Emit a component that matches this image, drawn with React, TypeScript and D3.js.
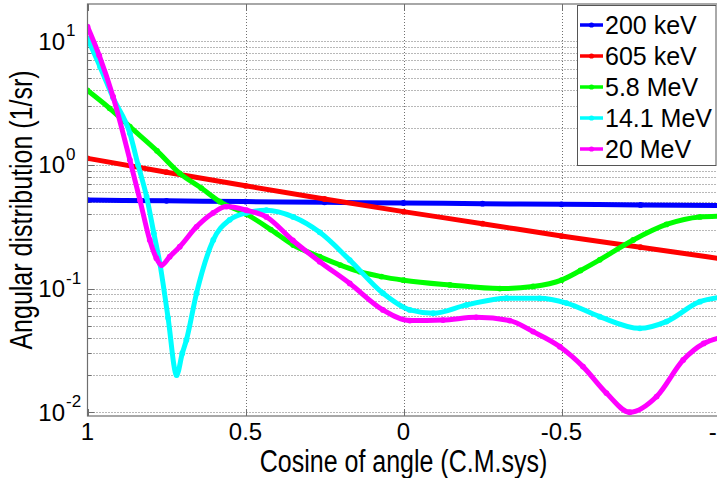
import React from "react";
import * as d3 from "d3";

// chart values (cosine of angle, angular distribution 1/sr)
const seriesNames = ["200 keV", "605 keV", "5.8 MeV", "14.1 MeV", "20 MeV"];
const seriesColors = ["#0000ff", "#ff0000", "#00ff00", "#00ffff", "#ff00ff"];

const cos200 = [1, 0.75, 0.5, 0.25, 0, -0.25, -0.5, -0.75, -1];
const val200 = [0.52, 0.512, 0.505, 0.498, 0.492, 0.486, 0.48, 0.475, 0.47];

const cos605 = [1, 0.75, 0.5, 0.25, 0, -0.25, -0.5, -0.75, -1];
const val605 = [1.13, 0.873, 0.678, 0.53, 0.419, 0.335, 0.266, 0.216, 0.175];

const cos58 = [1, 0.93, 0.866, 0.78, 0.708, 0.64, 0.581, 0.497, 0.42, 0.349, 0.265, 0.2, 0.138, 0.07, 0, -0.147, -0.305, -0.41, -0.5, -0.56, -0.621, -0.727, -0.832, -0.938, -1];
const val58 = [4.0, 2.87, 2.04, 1.3, 0.855, 0.65, 0.504, 0.4, 0.3, 0.225, 0.181, 0.155, 0.137, 0.125, 0.117, 0.107, 0.1, 0.104, 0.117, 0.14, 0.171, 0.247, 0.33, 0.38, 0.385];

const cos141 = [1, 0.96, 0.919, 0.866, 0.84, 0.813, 0.79, 0.771, 0.745, 0.718, 0.7, 0.687, 0.655, 0.602, 0.55, 0.497, 0.434, 0.349, 0.265, 0.17, 0.065, -0.02, -0.094, -0.2, -0.326, -0.431, -0.516, -0.621, -0.748, -0.832, -0.938, -1];
const val141 = [10.5, 6.2, 3.49, 1.8, 1.0, 0.553, 0.28, 0.16, 0.058, 0.02, 0.03, 0.0384, 0.0917, 0.247, 0.36, 0.41, 0.43, 0.38, 0.285, 0.17, 0.0917, 0.0672, 0.0632, 0.0738, 0.0837, 0.0835, 0.0764, 0.0593, 0.0477, 0.0541, 0.0784, 0.085];

const cos20 = [1, 0.963, 0.919, 0.866, 0.834, 0.803, 0.782, 0.766, 0.74, 0.708, 0.655, 0.602, 0.56, 0.497, 0.434, 0.35, 0.265, 0.17, 0.065, -0.02, -0.125, -0.23, -0.336, -0.41, -0.495, -0.568, -0.642, -0.716, -0.801, -0.885, -0.95, -1];
const val20 = [13.1, 7.69, 3.56, 1.1, 0.52, 0.247, 0.176, 0.155, 0.181, 0.218, 0.316, 0.41, 0.46, 0.43, 0.38, 0.245, 0.165, 0.11, 0.0672, 0.0551, 0.0557, 0.0586, 0.0551, 0.0449, 0.0339, 0.0234, 0.0143, 0.01, 0.0134, 0.0265, 0.036, 0.04];

const allCos = [cos200, cos605, cos58, cos141, cos20];
const allVals = [val200, val605, val58, val141, val20];

const xTicks = [1, 0.5, 0, -0.5, -1];
const xTickLabels = ["1", "0.5", "0", "-0.5", "-1"];
const yExponents = [-2, -1, 0, 1];

const W = 717, H = 478;
const plot = { left: 87.5, right: 719.5, top: 4, bottom: 416 };
const font = "'Liberation Sans', Arial, Helvetica, sans-serif";

export default function App() {
  const x = d3.scaleLinear().domain([1, -1]).range([plot.left, plot.right]);
  const y = d3.scaleLog().domain([0.00933, 20]).range([plot.bottom, plot.top]);

  const line = d3.line<[number, number]>()
    .x(d => x(d[0]))
    .y(d => y(d[1]))
    .curve(d3.curveMonotoneX);

  // minor grid values 1..9 x 10^k inside the domain
  const minorVals: number[] = [];
  for (let k = -3; k <= 1; k++) {
    for (let m = 1; m <= 9; m++) {
      const v = m * Math.pow(10, k);
      if (v > 0.00933 && v < 20) minorVals.push(v);
    }
  }

  const legendRows = [25, 56, 87, 118, 149];

  return (
    <svg width={W} height={H} style={{ position: "absolute", left: 0, top: 0, background: "#fff" }}
      fontFamily={font}>
      <defs>
        <clipPath id="plotClip">
          <rect x={plot.left} y={plot.top} width={plot.right - plot.left} height={plot.bottom - plot.top} />
        </clipPath>
      </defs>
      <rect x={0} y={0} width={W} height={H} fill="#fff" />

      {/* grid */}
      <g stroke="#707070" strokeWidth={1} strokeDasharray="1,2">
        {minorVals.map((v, i) => (
          <line key={"gy" + i} x1={plot.left} x2={plot.right} y1={Math.round(y(v)) + 0.5} y2={Math.round(y(v)) + 0.5} />
        ))}
        {xTicks.slice(1, 4).map((t, i) => (
          <line key={"gx" + i} x1={Math.round(x(t)) + 0.5} x2={Math.round(x(t)) + 0.5} y1={plot.top} y2={plot.bottom} />
        ))}
      </g>

      {/* ticks */}
      <g stroke="#6e6e6e" strokeWidth={1}>
        {minorVals.map((v, i) => {
          const major = yExponents.some(e => Math.abs(Math.pow(10, e) - v) < 1e-9);
          const len = major ? 7 : 4;
          const yy = Math.round(y(v)) + 0.5;
          return <line key={"ty" + i} x1={plot.left} x2={plot.left + len} y1={yy} y2={yy} />;
        })}
        {xTicks.map((t, i) => (
          <g key={"tx" + i}>
            <line x1={Math.round(x(t)) + 0.5} x2={Math.round(x(t)) + 0.5} y1={plot.bottom} y2={plot.bottom - 7} />
            <line x1={Math.round(x(t)) + 0.5} x2={Math.round(x(t)) + 0.5} y1={plot.top} y2={plot.top + 7} />
          </g>
        ))}
      </g>

      {/* series */}
      <g clipPath="url(#plotClip)">
        {allCos.map((cs, si) => {
          const pts: [number, number][] = cs.map((c, j) => [c, allVals[si][j]]);
          return (
            <g key={"s" + si}>
              <path d={line(pts) || ""} fill="none" stroke={seriesColors[si]} strokeWidth={5}
                strokeLinejoin="round" strokeLinecap="round" />
              {pts.map((p, j) => (
                <circle key={j} cx={x(p[0])} cy={y(p[1])} r={2.9} fill={seriesColors[si]} />
              ))}
            </g>
          );
        })}
      </g>

      {/* axes box */}
      <rect x={plot.left} y={plot.top} width={plot.right - plot.left} height={plot.bottom - plot.top}
        fill="none" stroke="#6e6e6e" strokeWidth={1.2} />

      {/* tick labels */}
      <g fontSize={24} fill="#000">
        {xTicks.map((t, i) => (
          <text key={"xl" + i} x={x(t)} y={440} textAnchor="middle">{xTickLabels[i]}</text>
        ))}
        {yExponents.map(e => {
          const yy = y(Math.pow(10, e));
          return (
            <text key={"yl" + e} y={yy + 8.5}>
              <tspan x={65} textAnchor="end">10</tspan>
              <tspan x={66} y={yy - 5} fontSize={17}>{String(e)}</tspan>
            </text>
          );
        })}
      </g>

      {/* axis labels (reference glyphs are drawn taller than wide) */}
      <text transform={`translate(${(plot.left + plot.right) / 2},472) scale(1,1.25)`} textAnchor="middle" fontSize={25}>
        Cosine of angle (C.M.sys)
      </text>
      <text transform={`translate(32,${(plot.top + plot.bottom) / 2}) rotate(-90) scale(1,1.25)`} textAnchor="middle" fontSize={25}>
        Angular distribution (1/sr)
      </text>

      {/* legend */}
      <rect x={577.5} y={5.5} width={138.5} height={160} fill="#fff" stroke="#555" strokeWidth={1} />
      {seriesNames.map((n, i) => (
        <g key={"lg" + i}>
          <line x1={580} x2={603} y1={legendRows[i]} y2={legendRows[i]} stroke={seriesColors[i]} strokeWidth={3.5} />
          <circle cx={591.5} cy={legendRows[i]} r={2.6} fill={seriesColors[i]} />
          <text x={605} y={legendRows[i] + 9} fontSize={25}>{n}</text>
        </g>
      ))}
    </svg>
  );
}
